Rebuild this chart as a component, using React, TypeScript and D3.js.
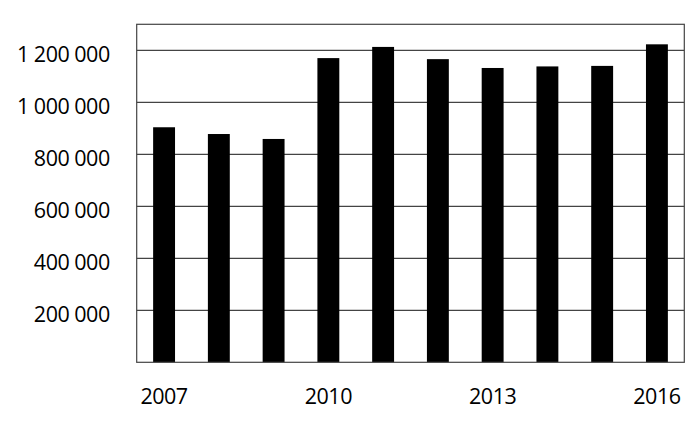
import { useEffect, useRef } from 'react';
import * as d3 from 'd3';

// values
const years = ['2007', '2008', '2009', '2010', '2011', '2012', '2013', '2014', '2015', '2016'];
const values = [904000, 878000, 859000, 1170000, 1213000, 1166000, 1132000, 1138000, 1140000, 1223000];
const yTicks = [200000, 400000, 600000, 800000, 1000000, 1200000];
const xTickLabels = ['2007', '2010', '2013', '2016'];

const width = 700;
const height = 432;
const marginLeft = 136.7;
const marginRight = 15.7;
const marginTop = 24.3;
const marginBottom = 69.7;

const fmt = (n: number) => d3.format(',')(n).replace(/,/g, ' ');

export default function App() {
  const x = d3.scaleBand()
    .domain(years)
    .range([marginLeft, width - marginRight])
    .paddingInner(0.6)
    .paddingOuter(0.3);

  const y = d3.scaleLinear()
    .domain([0, 1300000])
    .range([height - marginBottom, marginTop]);

  const gx = useRef<SVGGElement>(null);
  const gy = useRef<SVGGElement>(null);

  useEffect(() => {
    if (gx.current) {
      d3.select(gx.current)
        .call(d3.axisBottom(x).tickValues(xTickLabels).tickSize(0).tickPadding(26))
        .call(g => g.select('.domain').remove())
        .selectAll('text')
        .attr('font-size', 21.5)
        .attr('letter-spacing', -0.5)
        .attr('font-family', '"Open Sans", sans-serif')
        .attr('fill', '#000');
    }
  }, [x]);

  useEffect(() => {
    if (gy.current) {
      d3.select(gy.current)
        .call(d3.axisLeft(y).tickValues(yTicks).tickFormat(d => fmt(d as number)).tickSize(0).tickPadding(27))
        .call(g => g.select('.domain').remove())
        .selectAll('text')
        .attr('font-size', 21.5)
        .attr('letter-spacing', -0.5)
        .attr('font-family', '"Open Sans", sans-serif')
        .attr('fill', '#000')
        .attr('dy', '0.52em');
    }
  }, [y]);

  const x0 = marginLeft;
  const x1 = width - marginRight;
  const yBottom = y(0);

  return (
    <svg width={width} height={height} style={{ position: 'absolute', left: 0, top: 0, background: '#fff' }}>
      {/* gridlines */}
      {yTicks.map(t => (
        <line key={t} x1={x0} x2={x1} y1={y(t)} y2={y(t)} stroke="#444" strokeWidth={1.2} />
      ))}
      {/* bars */}
      {years.map((yr, i) => (
        <rect
          key={yr}
          x={x(yr)}
          y={y(values[i])}
          width={x.bandwidth()}
          height={yBottom - y(values[i])}
          fill="#000"
        />
      ))}
      {/* frame */}
      <rect x={x0} y={marginTop} width={x1 - x0} height={yBottom - marginTop} fill="none" stroke="#444" strokeWidth={1.2} />
      <g ref={gx} transform={`translate(0,${yBottom})`} />
      <g ref={gy} transform={`translate(${marginLeft},0)`} />
    </svg>
  );
}
